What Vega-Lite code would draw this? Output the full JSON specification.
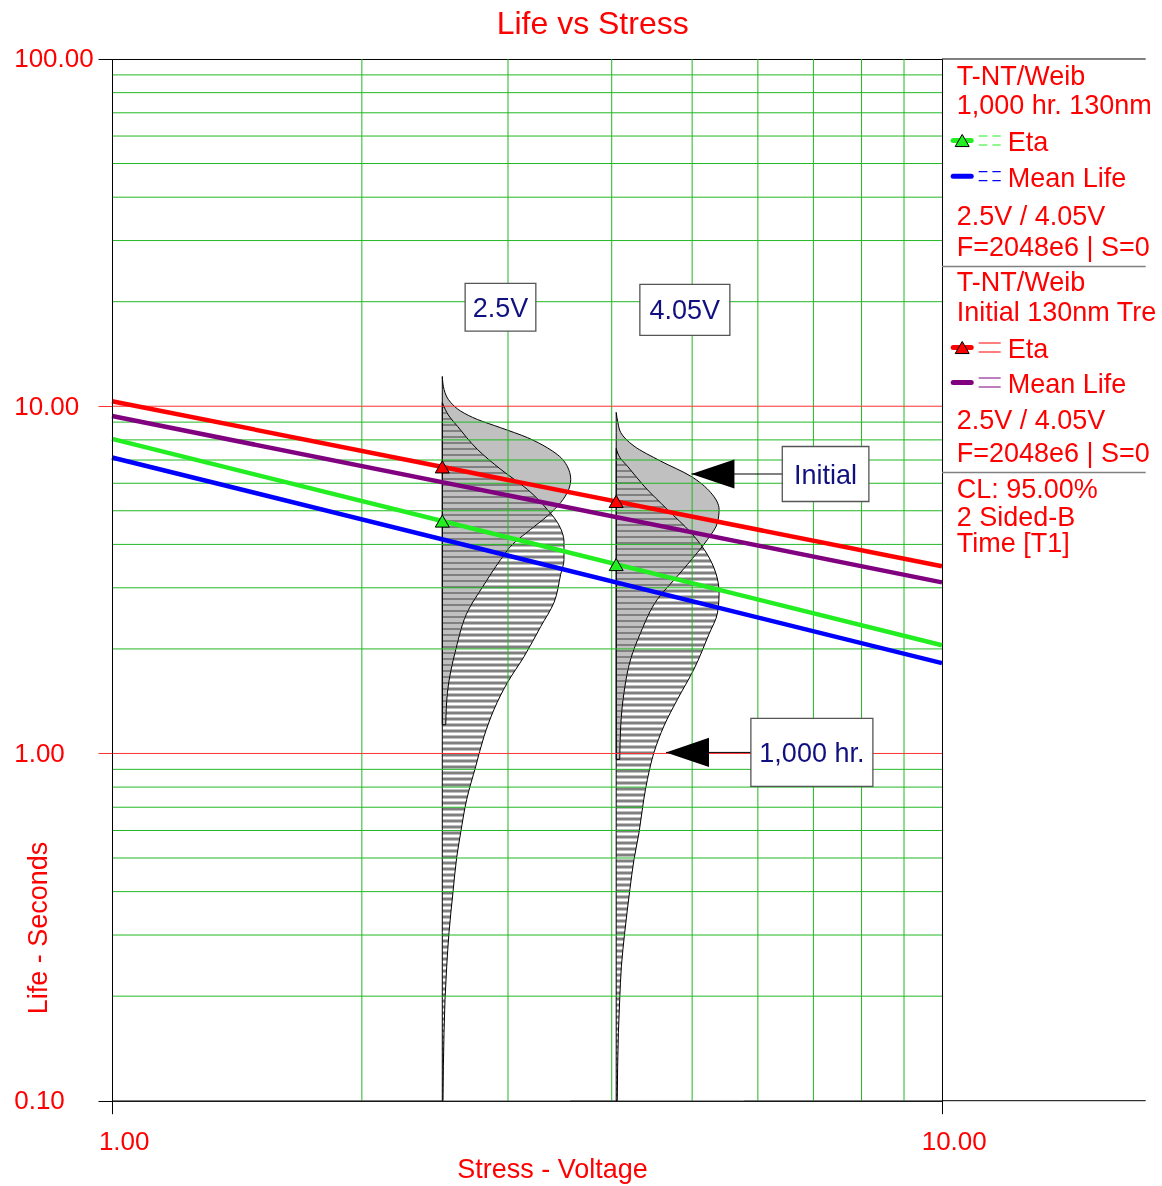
{
  "$schema": "https://vega.github.io/schema/vega-lite/v6.json",
  "background": "white",
  "padding": {"left": 13, "top": 8, "right": 0, "bottom": 4},
  "bounds": "flush",
  "spacing": 0,
  "title": {"text": "Life vs Stress", "font": "Liberation Sans", "fontSize": 32, "fontWeight": "normal", "color": "#ff0000", "anchor": "middle", "frame": "group", "dx": 480.7, "offset": 4.5},
  "datasets": {
    "fits": [
      {"series": "Initial Eta", "stress": 1, "life": 10.34},
      {"series": "Initial Eta", "stress": 10, "life": 3.46},
      {"series": "Initial Mean Life", "stress": 1, "life": 9.37},
      {"series": "Initial Mean Life", "stress": 10, "life": 3.11},
      {"series": "1,000 hr. Eta", "stress": 1, "life": 8.05},
      {"series": "1,000 hr. Eta", "stress": 10, "life": 2.05},
      {"series": "1,000 hr. Mean Life", "stress": 1, "life": 7.12},
      {"series": "1,000 hr. Mean Life", "stress": 10, "life": 1.82}
    ],
    "eta": [
      {"series": "Initial Eta", "stress": 2.5, "life": 6.69},
      {"series": "Initial Eta", "stress": 4.05, "life": 5.32},
      {"series": "1,000 hr. Eta", "stress": 2.5, "life": 4.67},
      {"series": "1,000 hr. Eta", "stress": 4.05, "life": 3.5}
    ],
    "pdf": [
      {"pdf": "init25", "kind": "initial", "stress": 2.5, "i": 0, "life": 12.18, "b": 2.5},
      {"pdf": "init25", "kind": "initial", "stress": 2.5, "i": 1, "life": 11.18, "b": 2.512},
      {"pdf": "init25", "kind": "initial", "stress": 2.5, "i": 2, "life": 10.25, "b": 2.559},
      {"pdf": "init25", "kind": "initial", "stress": 2.5, "i": 3, "life": 9.68, "b": 2.631},
      {"pdf": "init25", "kind": "initial", "stress": 2.5, "i": 4, "life": 9.16, "b": 2.756},
      {"pdf": "init25", "kind": "initial", "stress": 2.5, "i": 5, "life": 8.67, "b": 2.94},
      {"pdf": "init25", "kind": "initial", "stress": 2.5, "i": 6, "life": 8.12, "b": 3.166},
      {"pdf": "init25", "kind": "initial", "stress": 2.5, "i": 7, "life": 7.59, "b": 3.346},
      {"pdf": "init25", "kind": "initial", "stress": 2.5, "i": 8, "life": 6.95, "b": 3.504},
      {"pdf": "init25", "kind": "initial", "stress": 2.5, "i": 9, "life": 6.15, "b": 3.57},
      {"pdf": "init25", "kind": "initial", "stress": 2.5, "i": 10, "life": 5.76, "b": 3.55},
      {"pdf": "init25", "kind": "initial", "stress": 2.5, "i": 11, "life": 5.28, "b": 3.472},
      {"pdf": "init25", "kind": "initial", "stress": 2.5, "i": 12, "life": 4.83, "b": 3.346},
      {"pdf": "init25", "kind": "initial", "stress": 2.5, "i": 13, "life": 4.42, "b": 3.195},
      {"pdf": "init25", "kind": "initial", "stress": 2.5, "i": 14, "life": 3.95, "b": 3.022},
      {"pdf": "init25", "kind": "initial", "stress": 2.5, "i": 15, "life": 3.62, "b": 2.94},
      {"pdf": "init25", "kind": "initial", "stress": 2.5, "i": 16, "life": 3.01, "b": 2.794},
      {"pdf": "init25", "kind": "initial", "stress": 2.5, "i": 17, "life": 2.6, "b": 2.69},
      {"pdf": "init25", "kind": "initial", "stress": 2.5, "i": 18, "life": 1.99, "b": 2.595},
      {"pdf": "init25", "kind": "initial", "stress": 2.5, "i": 19, "life": 1.5, "b": 2.536},
      {"pdf": "init25", "kind": "initial", "stress": 2.5, "i": 20, "life": 1.21, "b": 2.524},
      {"pdf": "hatch25", "kind": "hatch", "stress": 2.5, "i": 0, "life": 10.25, "b": 2.5},
      {"pdf": "hatch25", "kind": "hatch", "stress": 2.5, "i": 1, "life": 9.37, "b": 2.547},
      {"pdf": "hatch25", "kind": "hatch", "stress": 2.5, "i": 2, "life": 8.76, "b": 2.607},
      {"pdf": "hatch25", "kind": "hatch", "stress": 2.5, "i": 3, "life": 7.51, "b": 2.756},
      {"pdf": "hatch25", "kind": "hatch", "stress": 2.5, "i": 4, "life": 6.58, "b": 2.94},
      {"pdf": "hatch25", "kind": "hatch", "stress": 2.5, "i": 5, "life": 5.76, "b": 3.166},
      {"pdf": "hatch25", "kind": "hatch", "stress": 2.5, "i": 6, "life": 5.04, "b": 3.346},
      {"pdf": "hatch25", "kind": "hatch", "stress": 2.5, "i": 7, "life": 4.63, "b": 3.44},
      {"pdf": "hatch25", "kind": "hatch", "stress": 2.5, "i": 8, "life": 4.05, "b": 3.504},
      {"pdf": "hatch25", "kind": "hatch", "stress": 2.5, "i": 9, "life": 3.62, "b": 3.504},
      {"pdf": "hatch25", "kind": "hatch", "stress": 2.5, "i": 10, "life": 3.28, "b": 3.472},
      {"pdf": "hatch25", "kind": "hatch", "stress": 2.5, "i": 11, "life": 2.72, "b": 3.408},
      {"pdf": "hatch25", "kind": "hatch", "stress": 2.5, "i": 12, "life": 2.32, "b": 3.285},
      {"pdf": "hatch25", "kind": "hatch", "stress": 2.5, "i": 13, "life": 1.9, "b": 3.136},
      {"pdf": "hatch25", "kind": "hatch", "stress": 2.5, "i": 14, "life": 1.6, "b": 2.995},
      {"pdf": "hatch25", "kind": "hatch", "stress": 2.5, "i": 15, "life": 1.34, "b": 2.886},
      {"pdf": "hatch25", "kind": "hatch", "stress": 2.5, "i": 16, "life": 1.12, "b": 2.807},
      {"pdf": "hatch25", "kind": "hatch", "stress": 2.5, "i": 17, "life": 0.918, "b": 2.743},
      {"pdf": "hatch25", "kind": "hatch", "stress": 2.5, "i": 18, "life": 0.737, "b": 2.675},
      {"pdf": "hatch25", "kind": "hatch", "stress": 2.5, "i": 19, "life": 0.592, "b": 2.631},
      {"pdf": "hatch25", "kind": "hatch", "stress": 2.5, "i": 20, "life": 0.502, "b": 2.602},
      {"pdf": "hatch25", "kind": "hatch", "stress": 2.5, "i": 21, "life": 0.401, "b": 2.576},
      {"pdf": "hatch25", "kind": "hatch", "stress": 2.5, "i": 22, "life": 0.305, "b": 2.547},
      {"pdf": "hatch25", "kind": "hatch", "stress": 2.5, "i": 23, "life": 0.244, "b": 2.531},
      {"pdf": "hatch25", "kind": "hatch", "stress": 2.5, "i": 24, "life": 0.196, "b": 2.519},
      {"pdf": "hatch25", "kind": "hatch", "stress": 2.5, "i": 25, "life": 0.157, "b": 2.512},
      {"pdf": "hatch25", "kind": "hatch", "stress": 2.5, "i": 26, "life": 0.1, "b": 2.505},
      {"pdf": "init405", "kind": "initial", "stress": 4.05, "i": 0, "life": 9.6, "b": 4.05},
      {"pdf": "init405", "kind": "initial", "stress": 4.05, "i": 1, "life": 8.96, "b": 4.07},
      {"pdf": "init405", "kind": "initial", "stress": 4.05, "i": 2, "life": 8.4, "b": 4.101},
      {"pdf": "init405", "kind": "initial", "stress": 4.05, "i": 3, "life": 7.68, "b": 4.255},
      {"pdf": "init405", "kind": "initial", "stress": 4.05, "i": 4, "life": 6.95, "b": 4.582},
      {"pdf": "init405", "kind": "initial", "stress": 4.05, "i": 5, "life": 6.29, "b": 4.98},
      {"pdf": "init405", "kind": "initial", "stress": 4.05, "i": 6, "life": 5.64, "b": 5.265},
      {"pdf": "init405", "kind": "initial", "stress": 4.05, "i": 7, "life": 5.04, "b": 5.388},
      {"pdf": "init405", "kind": "initial", "stress": 4.05, "i": 8, "life": 4.62, "b": 5.364},
      {"pdf": "init405", "kind": "initial", "stress": 4.05, "i": 9, "life": 4.13, "b": 5.217},
      {"pdf": "init405", "kind": "initial", "stress": 4.05, "i": 10, "life": 3.79, "b": 5.074},
      {"pdf": "init405", "kind": "initial", "stress": 4.05, "i": 11, "life": 3.24, "b": 4.799},
      {"pdf": "init405", "kind": "initial", "stress": 4.05, "i": 12, "life": 2.78, "b": 4.541},
      {"pdf": "init405", "kind": "initial", "stress": 4.05, "i": 13, "life": 2.23, "b": 4.335},
      {"pdf": "init405", "kind": "initial", "stress": 4.05, "i": 14, "life": 1.87, "b": 4.216},
      {"pdf": "init405", "kind": "initial", "stress": 4.05, "i": 15, "life": 1.5, "b": 4.139},
      {"pdf": "init405", "kind": "initial", "stress": 4.05, "i": 16, "life": 1.2, "b": 4.101},
      {"pdf": "init405", "kind": "initial", "stress": 4.05, "i": 17, "life": 0.961, "b": 4.09},
      {"pdf": "hatch405", "kind": "hatch", "stress": 4.05, "i": 0, "life": 7.56, "b": 4.05},
      {"pdf": "hatch405", "kind": "hatch", "stress": 4.05, "i": 1, "life": 7.11, "b": 4.093},
      {"pdf": "hatch405", "kind": "hatch", "stress": 4.05, "i": 2, "life": 6.72, "b": 4.178},
      {"pdf": "hatch405", "kind": "hatch", "stress": 4.05, "i": 3, "life": 5.89, "b": 4.375},
      {"pdf": "hatch405", "kind": "hatch", "stress": 4.05, "i": 4, "life": 5.04, "b": 4.668},
      {"pdf": "hatch405", "kind": "hatch", "stress": 4.05, "i": 5, "life": 4.33, "b": 4.98},
      {"pdf": "hatch405", "kind": "hatch", "stress": 4.05, "i": 6, "life": 3.87, "b": 5.169},
      {"pdf": "hatch405", "kind": "hatch", "stress": 4.05, "i": 7, "life": 3.31, "b": 5.339},
      {"pdf": "hatch405", "kind": "hatch", "stress": 4.05, "i": 8, "life": 2.9, "b": 5.388},
      {"pdf": "hatch405", "kind": "hatch", "stress": 4.05, "i": 9, "life": 2.54, "b": 5.364},
      {"pdf": "hatch405", "kind": "hatch", "stress": 4.05, "i": 10, "life": 2.2, "b": 5.236},
      {"pdf": "hatch405", "kind": "hatch", "stress": 4.05, "i": 11, "life": 1.75, "b": 5.026},
      {"pdf": "hatch405", "kind": "hatch", "stress": 4.05, "i": 12, "life": 1.43, "b": 4.799},
      {"pdf": "hatch405", "kind": "hatch", "stress": 4.05, "i": 13, "life": 1.2, "b": 4.624},
      {"pdf": "hatch405", "kind": "hatch", "stress": 4.05, "i": 14, "life": 1.007, "b": 4.498},
      {"pdf": "hatch405", "kind": "hatch", "stress": 4.05, "i": 15, "life": 0.841, "b": 4.416},
      {"pdf": "hatch405", "kind": "hatch", "stress": 4.05, "i": 16, "life": 0.737, "b": 4.372},
      {"pdf": "hatch405", "kind": "hatch", "stress": 4.05, "i": 17, "life": 0.592, "b": 4.315},
      {"pdf": "hatch405", "kind": "hatch", "stress": 4.05, "i": 18, "life": 0.495, "b": 4.255},
      {"pdf": "hatch405", "kind": "hatch", "stress": 4.05, "i": 19, "life": 0.406, "b": 4.207},
      {"pdf": "hatch405", "kind": "hatch", "stress": 4.05, "i": 20, "life": 0.305, "b": 4.147},
      {"pdf": "hatch405", "kind": "hatch", "stress": 4.05, "i": 21, "life": 0.244, "b": 4.109},
      {"pdf": "hatch405", "kind": "hatch", "stress": 4.05, "i": 22, "life": 0.196, "b": 4.09},
      {"pdf": "hatch405", "kind": "hatch", "stress": 4.05, "i": 23, "life": 0.157, "b": 4.075},
      {"pdf": "hatch405", "kind": "hatch", "stress": 4.05, "i": 24, "life": 0.1, "b": 4.062}
    ],
    "grid": [
      {"dir": "x", "v": 2, "major": false}, {"dir": "x", "v": 3, "major": false},
      {"dir": "x", "v": 4, "major": false}, {"dir": "x", "v": 5, "major": false},
      {"dir": "x", "v": 6, "major": false}, {"dir": "x", "v": 7, "major": false},
      {"dir": "x", "v": 8, "major": false}, {"dir": "x", "v": 9, "major": false},
      {"dir": "y", "v": 0.2, "major": false}, {"dir": "y", "v": 0.3, "major": false},
      {"dir": "y", "v": 0.4, "major": false}, {"dir": "y", "v": 0.5, "major": false},
      {"dir": "y", "v": 0.6, "major": false}, {"dir": "y", "v": 0.7, "major": false},
      {"dir": "y", "v": 0.8, "major": false}, {"dir": "y", "v": 0.9, "major": false},
      {"dir": "y", "v": 1, "major": true},
      {"dir": "y", "v": 2, "major": false}, {"dir": "y", "v": 3, "major": false},
      {"dir": "y", "v": 4, "major": false}, {"dir": "y", "v": 5, "major": false},
      {"dir": "y", "v": 6, "major": false}, {"dir": "y", "v": 7, "major": false},
      {"dir": "y", "v": 8, "major": false}, {"dir": "y", "v": 9, "major": false},
      {"dir": "y", "v": 10, "major": true},
      {"dir": "y", "v": 20, "major": false}, {"dir": "y", "v": 30, "major": false},
      {"dir": "y", "v": 40, "major": false}, {"dir": "y", "v": 50, "major": false},
      {"dir": "y", "v": 60, "major": false}, {"dir": "y", "v": 70, "major": false},
      {"dir": "y", "v": 80, "major": false}, {"dir": "y", "v": 90, "major": false}
    ],
    "notes": [
      {"label": "2.5V", "stress": 2.938, "life": 19.28},
      {"label": "4.05V", "stress": 4.9, "life": 18.94},
      {"label": "Initial", "stress": 7.24, "life": 6.38, "tip": 4.99},
      {"label": "1,000 hr.", "stress": 6.97, "life": 1.007, "tip": 4.65}
    ],
    "panel": [
      {"kind": "border", "text": "", "line": 0},
      {"kind": "text", "text": "T-NT/Weib", "line": 16.2},
      {"kind": "text", "text": "1,000 hr. 130nm", "line": 45.5},
      {"kind": "text", "text": "2.5V / 4.05V", "line": 156.5},
      {"kind": "text", "text": "F=2048e6 | S=0", "line": 187.5},
      {"kind": "sep", "text": "", "line": 207.5},
      {"kind": "text", "text": "T-NT/Weib", "line": 222.5},
      {"kind": "text", "text": "Initial 130nm Tre", "line": 252.5},
      {"kind": "text", "text": "2.5V / 4.05V", "line": 360.5},
      {"kind": "text", "text": "F=2048e6 | S=0", "line": 393.5},
      {"kind": "sep", "text": "", "line": 413.5},
      {"kind": "text", "text": "CL: 95.00%", "line": 429.5},
      {"kind": "text", "text": "2 Sided-B", "line": 457.5},
      {"kind": "text", "text": "Time [T1]", "line": 483.5},
      {"kind": "border", "text": "", "line": 1041.7}
    ],
    "key": [
      {"series": "1,000 hr. Eta", "measure": "Eta", "group": "1,000 hr.", "line": 81.5},
      {"series": "1,000 hr. Mean Life", "measure": "Mean Life", "group": "1,000 hr.", "line": 117.2},
      {"series": "Initial Eta", "measure": "Eta", "group": "Initial", "line": 288.5},
      {"series": "Initial Mean Life", "measure": "Mean Life", "group": "Initial", "line": 323.5}
    ]
  },
  "resolve": {"scale": {"x": "independent", "y": "independent"}},
  "hconcat": [
    {
      "width": 830,
      "height": 1041.7,
      "view": {"stroke": "black", "strokeWidth": 1},
      "layer": [
        {
          "description": "horizontal hatching of the 1,000 hr. densities: a wide dashed rule per stress level",
          "data": {"name": "pdf"},
          "transform": [{"filter": "datum.kind === 'hatch' && datum.i === 0"}],
          "mark": {"type": "rule", "color": "#808080", "strokeWidth": 125, "xOffset": 62.5, "strokeDash": [3, 3], "strokeDashOffset": 3},
          "encoding": {
            "x": {
              "field": "stress", "type": "quantitative",
              "scale": {"type": "log", "domain": [1, 10], "nice": false},
              "axis": {
                "title": "Stress - Voltage", "values": [1, 10], "format": ".2f", "grid": false, "zindex": 1,
                "domainColor": "black", "domainWidth": 1, "tickColor": "black", "tickWidth": 1, "tickSize": 13,
                "labelFont": "Liberation Sans", "labelFontSize": 26, "labelColor": "#ff0000", "labelPadding": 15,
                "labelOffset": 11.7, "labelFlush": false, "labelOverlap": false,
                "titleFont": "Liberation Sans", "titleFontSize": 27, "titleFontWeight": "normal", "titleColor": "#ff0000",
                "titleX": 440, "titleY": 77, "titleBaseline": "alphabetic", "titleAlign": "center"
              }
            },
            "y": {
              "field": "life", "type": "quantitative",
              "scale": {"type": "log", "domain": [0.1, 100], "nice": false},
              "axis": {
                "title": "Life - Seconds", "values": [0.1, 1, 10, 100], "format": ".2f", "grid": false, "zindex": 1,
                "domainColor": "black", "domainWidth": 1, "tickWidth": 1, "tickSize": 14,
                "tickColor": {"condition": {"test": "datum.value === 1 || datum.value === 10", "value": "#ff3030"}, "value": "black"},
                "labelFont": "Liberation Sans", "labelFontSize": 26, "labelColor": "#ff0000", "labelAlign": "left",
                "labelPadding": 84.3, "labelFlush": false, "labelOverlap": false,
                "titleFont": "Liberation Sans", "titleFontSize": 27, "titleFontWeight": "normal", "titleColor": "#ff0000",
                "titleAngle": 270, "titleX": -65.3, "titleY": 868.5, "titleBaseline": "alphabetic", "titleAlign": "center"
              }
            },
            "y2": {"datum": 0.1}
          }
        },
        {
          "description": "white cover that trims the hatching to the density outline",
          "data": {"name": "pdf"},
          "transform": [{"filter": "datum.kind === 'hatch'"}],
          "mark": {"type": "area", "orient": "horizontal", "interpolate": "monotone", "fill": "white", "x2Offset": 128},
          "encoding": {
            "y": {"field": "life", "type": "quantitative"},
            "x": {"field": "b", "type": "quantitative"},
            "x2": {"field": "stress"},
            "detail": {"field": "pdf"}
          }
        },
        {
          "description": "initial densities, solid grey",
          "data": {"name": "pdf"},
          "transform": [{"filter": "datum.kind === 'initial'"}],
          "mark": {"type": "area", "orient": "horizontal", "interpolate": "monotone", "fill": "#c0c0c0", "stroke": "black", "strokeWidth": 1, "blend": "darken"},
          "encoding": {
            "y": {"field": "life", "type": "quantitative"},
            "x": {"field": "stress", "type": "quantitative"},
            "x2": {"field": "b"},
            "detail": {"field": "pdf"}
          }
        },
        {
          "description": "outline of the 1,000 hr. densities",
          "data": {"name": "pdf"},
          "transform": [{"filter": "datum.kind === 'hatch'"}],
          "mark": {"type": "area", "orient": "horizontal", "interpolate": "monotone", "fill": "white", "fillOpacity": 0, "stroke": "black", "strokeWidth": 1},
          "encoding": {
            "y": {"field": "life", "type": "quantitative"},
            "x": {"field": "stress", "type": "quantitative"},
            "x2": {"field": "b"},
            "detail": {"field": "pdf"}
          }
        },
        {
          "data": {"name": "grid"},
          "transform": [{"filter": "datum.dir === 'x'"}],
          "mark": {"type": "rule", "color": "#22b822", "strokeWidth": 1},
          "encoding": {"x": {"field": "v", "type": "quantitative"}}
        },
        {
          "data": {"name": "grid"},
          "transform": [{"filter": "datum.dir === 'y' && !datum.major"}],
          "mark": {"type": "rule", "color": "#22b822", "strokeWidth": 1},
          "encoding": {"y": {"field": "v", "type": "quantitative"}}
        },
        {
          "data": {"name": "grid"},
          "transform": [{"filter": "datum.dir === 'y' && datum.major"}],
          "mark": {"type": "rule", "color": "#ff3030", "strokeWidth": 1},
          "encoding": {"y": {"field": "v", "type": "quantitative"}}
        },
        {
          "data": {"name": "fits"},
          "mark": {"type": "line", "strokeWidth": 4.5},
          "encoding": {
            "x": {"field": "stress", "type": "quantitative"},
            "y": {"field": "life", "type": "quantitative"},
            "color": {
              "field": "series", "type": "nominal", "legend": null,
              "scale": {"domain": ["1,000 hr. Eta", "1,000 hr. Mean Life", "Initial Eta", "Initial Mean Life"], "range": ["#22ee22", "#0000ff", "#ff0000", "#800080"]}
            }
          }
        },
        {
          "data": {"name": "eta"},
          "mark": {"type": "point", "shape": "triangle-up", "size": 196, "filled": true, "stroke": "black", "strokeWidth": 1, "opacity": 1},
          "encoding": {
            "x": {"field": "stress", "type": "quantitative"},
            "y": {"field": "life", "type": "quantitative"},
            "color": {"field": "series", "type": "nominal", "legend": null}
          }
        },
        {
          "data": {"name": "notes"},
          "transform": [{"filter": "isValid(datum.tip)"}],
          "mark": {"type": "rule", "color": "black", "strokeWidth": 1},
          "encoding": {
            "x": {"field": "tip", "type": "quantitative"},
            "x2": {"field": "stress"},
            "y": {"field": "life", "type": "quantitative"}
          }
        },
        {
          "data": {"name": "notes"},
          "transform": [{"filter": "isValid(datum.tip)"}],
          "mark": {"type": "point", "shape": "M0,0L2,-0.68L2,0.68Z", "size": 1849, "filled": true, "color": "black", "opacity": 1},
          "encoding": {
            "x": {"field": "tip", "type": "quantitative"},
            "y": {"field": "life", "type": "quantitative"}
          }
        },
        {
          "data": {"name": "notes"},
          "transform": [{"filter": "datum.label === '2.5V'"}],
          "mark": {"type": "point", "shape": "M-1,-0.675H1V0.675H-1Z", "size": 4998, "filled": true, "fill": "white", "stroke": "#555555", "strokeWidth": 1.3, "opacity": 1},
          "encoding": {"x": {"field": "stress", "type": "quantitative"}, "y": {"field": "life", "type": "quantitative"}}
        },
        {
          "data": {"name": "notes"},
          "transform": [{"filter": "datum.label === '4.05V'"}],
          "mark": {"type": "point", "shape": "M-1,-0.567H1V0.567H-1Z", "size": 8100, "filled": true, "fill": "white", "stroke": "#555555", "strokeWidth": 1.3, "opacity": 1},
          "encoding": {"x": {"field": "stress", "type": "quantitative"}, "y": {"field": "life", "type": "quantitative"}}
        },
        {
          "data": {"name": "notes"},
          "transform": [{"filter": "datum.label === 'Initial'"}],
          "mark": {"type": "point", "shape": "M-1,-0.635H1V0.635H-1Z", "size": 7500, "filled": true, "fill": "white", "stroke": "#555555", "strokeWidth": 1.3, "opacity": 1},
          "encoding": {"x": {"field": "stress", "type": "quantitative"}, "y": {"field": "life", "type": "quantitative"}}
        },
        {
          "data": {"name": "notes"},
          "transform": [{"filter": "datum.label === '1,000 hr.'"}],
          "mark": {"type": "point", "shape": "M-1,-0.557H1V0.557H-1Z", "size": 14884, "filled": true, "fill": "white", "stroke": "#555555", "strokeWidth": 1.3, "opacity": 1},
          "encoding": {"x": {"field": "stress", "type": "quantitative"}, "y": {"field": "life", "type": "quantitative"}}
        },
        {
          "data": {"name": "notes"},
          "mark": {"type": "text", "font": "Liberation Sans", "fontSize": 27, "color": "#101080", "align": "center", "baseline": "middle", "dy": 1.5},
          "encoding": {
            "x": {"field": "stress", "type": "quantitative"},
            "y": {"field": "life", "type": "quantitative"},
            "text": {"field": "label"}
          }
        }
      ]
    },
    {
      "width": 203.7,
      "height": 1041.7,
      "layer": [
        {
          "data": {"name": "panel"},
          "transform": [{"filter": "datum.kind === 'border'"}],
          "mark": {"type": "rule", "color": "black", "strokeWidth": 1},
          "encoding": {
            "y": {"field": "line", "type": "quantitative", "scale": {"domain": [0, 1041.7], "reverse": true, "nice": false, "zero": false}, "axis": null}
          }
        },
        {
          "data": {"name": "panel"},
          "transform": [{"filter": "datum.kind === 'sep'"}],
          "mark": {"type": "rule", "color": "#808080", "strokeWidth": 1.5},
          "encoding": {"y": {"field": "line", "type": "quantitative"}}
        },
        {
          "data": {"name": "panel"},
          "transform": [{"filter": "datum.kind === 'text'"}],
          "mark": {"type": "text", "font": "Liberation Sans", "fontSize": 27, "color": "#ff0000", "align": "left", "baseline": "middle", "dy": 1.5},
          "encoding": {
            "x": {"datum": 14.7, "type": "quantitative", "scale": {"domain": [0, 203.7], "nice": false, "zero": false}, "axis": null},
            "y": {"field": "line", "type": "quantitative"},
            "text": {"field": "text"}
          }
        },
        {
          "data": {"name": "key"},
          "mark": {"type": "text", "font": "Liberation Sans", "fontSize": 27, "color": "#ff0000", "align": "left", "baseline": "middle", "dy": 3},
          "encoding": {
            "x": {"datum": 65.7, "type": "quantitative"},
            "y": {"field": "line", "type": "quantitative"},
            "text": {"field": "measure"}
          }
        },
        {
          "data": {"name": "key"},
          "mark": {"type": "rule", "strokeWidth": 5, "strokeCap": "round"},
          "encoding": {
            "x": {"datum": 11.2, "type": "quantitative"},
            "x2": {"datum": 29.2},
            "y": {"field": "line", "type": "quantitative"},
            "color": {
              "field": "series", "type": "nominal", "legend": null,
              "scale": {"domain": ["1,000 hr. Eta", "1,000 hr. Mean Life", "Initial Eta", "Initial Mean Life"], "range": ["#22ee22", "#0000ff", "#ff0000", "#800080"]}
            }
          }
        },
        {
          "data": {"name": "key"},
          "transform": [{"filter": "datum.measure === 'Eta'"}],
          "mark": {"type": "point", "shape": "triangle-up", "size": 196, "filled": true, "stroke": "black", "strokeWidth": 1, "opacity": 1},
          "encoding": {
            "x": {"datum": 20.2, "type": "quantitative"},
            "y": {"field": "line", "type": "quantitative"},
            "color": {"field": "series", "type": "nominal", "legend": null}
          }
        },
        {
          "data": {"name": "key"},
          "mark": {"type": "rule", "strokeWidth": 1.2, "yOffset": -4.5},
          "encoding": {
            "x": {"datum": 36.7, "type": "quantitative"},
            "x2": {"datum": 58.7},
            "y": {"field": "line", "type": "quantitative"},
            "color": {"field": "series", "type": "nominal", "legend": null},
            "strokeDash": {"field": "group", "type": "nominal", "legend": null, "scale": {"domain": ["1,000 hr.", "Initial"], "range": [[8.7, 5], [1, 0]]}}
          }
        },
        {
          "data": {"name": "key"},
          "mark": {"type": "rule", "strokeWidth": 1.2, "yOffset": 4.5},
          "encoding": {
            "x": {"datum": 36.7, "type": "quantitative"},
            "x2": {"datum": 58.7},
            "y": {"field": "line", "type": "quantitative"},
            "color": {"field": "series", "type": "nominal", "legend": null},
            "strokeDash": {"field": "group", "type": "nominal", "legend": null}
          }
        }
      ]
    }
  ],
  "config": {"view": {"stroke": null}, "font": "Liberation Sans"}
}
